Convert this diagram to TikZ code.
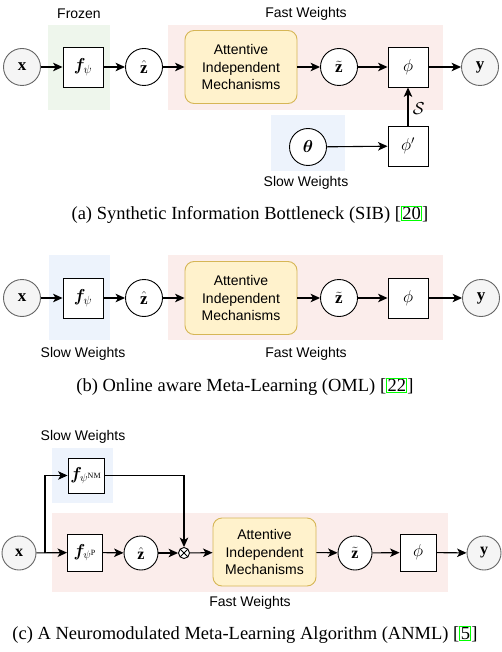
\documentclass[tikz,border=0pt]{standalone}
\usepackage{fontspec}
\usepackage{amsmath,amssymb,bm}
\setmainfont{Liberation Serif}
\setsansfont{Liberation Sans}
\usetikzlibrary{arrows.meta}
\definecolor{greenbg}{HTML}{EEF6EC}
\definecolor{pinkbg}{HTML}{FBEDEB}
\definecolor{bluebg}{HTML}{EDF3FC}
\definecolor{aimfill}{HTML}{FFF2CC}
\definecolor{aimdraw}{HTML}{D6B656}
\definecolor{iofill}{HTML}{F5F5F5}
\definecolor{iodraw}{HTML}{666666}
\definecolor{linkgreen}{HTML}{00FF00}
\newcommand{\citebox}[1]{{\setlength\fboxsep{0.3pt}\setlength\fboxrule{1.1pt}\fcolorbox{linkgreen}{white}{#1}}}
\begin{document}
\begin{tikzpicture}[x=1pt,y=-1pt,
  lbl/.style={font=\sffamily\fontsize{14}{17.5}\selectfont, inner sep=0pt},
  captxt/.style={font=\rmfamily\fontsize{18.5}{22}\selectfont, inner sep=0pt},
  mfont/.style={font=\fontsize{17}{20}\selectfont},
  io/.style={circle, draw=iodraw, fill=iofill, minimum size=37pt, inner sep=0pt, line width=0.9pt, mfont},
  var/.style={circle, draw=black, fill=white, minimum size=37pt, inner sep=0pt, line width=0.9pt, mfont},
  fb/.style={rectangle, draw=black, fill=white, minimum size=40pt, inner sep=0pt, line width=0.9pt, mfont},
  aim/.style={rectangle, rounded corners=9pt, draw=aimdraw, fill=aimfill, minimum width=112pt, minimum height=73pt, align=center, line width=0.9pt, font=\sffamily\fontsize{14}{17.5}\selectfont},
  otimesnode/.style={circle, draw=black, fill=white, minimum size=11pt, inner sep=0pt, line width=0.9pt,
    path picture={\draw[line width=0.9pt] (path picture bounding box.north west) -- (path picture bounding box.south east)
      (path picture bounding box.north east) -- (path picture bounding box.south west);}},
  arr/.style={-{Stealth[length=9.5pt,width=8.5pt,inset=2.5pt]}, line width=1.1pt}
]
\useasboundingbox (0,0) rectangle (502,652);

% ---------- (a) ----------
\fill[greenbg] (48,25) rectangle (110,110);
\fill[pinkbg] (168,25) rectangle (443,110);
\fill[bluebg] (271,115) rectangle (345,171);
\node[lbl] (frz) at (79,14) {Frozen};
\node[lbl] (fwa) at (306,14) {Fast Weights};
\node[lbl] (swa) at (306,183) {Slow Weights};
\node[io] (xa) at (22,67) {$\mathbf{x}$};
\node[fb] (fa) at (83,67) {$\bm{f}_{\psi}$};
\node[var] (zha) at (144,67) {$\hat{\mathbf{z}}$};
\node[aim] (ma) at (241,67) {Attentive\\Independent\\Mechanisms};
\node[var] (zta) at (339,67) {$\tilde{\mathbf{z}}$};
\node[fb] (pa) at (408,67) {$\phi$};
\node[io] (ya) at (480,67) {$\mathbf{y}$};
\node[var] (tha) at (308,147) {$\bm{\theta}$};
\node[fb] (ppa) at (408,146) {$\phi'$};
\draw[arr] (xa) -- (fa);
\draw[arr] (fa) -- (zha);
\draw[arr] (zha) -- (ma);
\draw[arr] (ma) -- (zta);
\draw[arr] (zta) -- (pa);
\draw[arr] (pa) -- (ya);
\draw[arr] (tha) -- (ppa);
\draw[arr] (ppa) -- node[right, xshift=1pt, yshift=-2pt, font=\fontsize{18}{20}\selectfont] (sa) {$\mathcal{S}$} (pa);
\node[captxt] (capa) at (250,215) {(a) Synthetic Information Bottleneck (SIB) [\citebox{20}]};

% ---------- (b) ----------
\fill[bluebg] (49,255) rectangle (110,340);
\fill[pinkbg] (168,255) rectangle (443,340);
\node[lbl] (swb) at (83,354) {Slow Weights};
\node[lbl] (fwb) at (306,354) {Fast Weights};
\node[io] (xb) at (22,298) {$\mathbf{x}$};
\node[fb] (fbb) at (83,298) {$\bm{f}_{\psi}$};
\node[var] (zhb) at (144,298) {$\hat{\mathbf{z}}$};
\node[aim] (mb) at (241,298) {Attentive\\Independent\\Mechanisms};
\node[var] (ztb) at (339,298) {$\tilde{\mathbf{z}}$};
\node[fb] (pb) at (408,298) {$\phi$};
\node[io] (yb) at (481,298) {$\mathbf{y}$};
\draw[arr] (xb) -- (fbb);
\draw[arr] (fbb) -- (zhb);
\draw[arr] (zhb) -- (mb);
\draw[arr] (mb) -- (ztb);
\draw[arr] (ztb) -- (pb);
\draw[arr] (pb) -- (yb);
\node[captxt] (capb) at (245,387) {(b) Online aware Meta-Learning (OML) [\citebox{22}]};

% ---------- (c) ----------
\fill[bluebg] (52,448) rectangle (113,503);
\fill[pinkbg] (52,513) rectangle (448,592);
\node[lbl] (swc) at (83,437) {Slow Weights};
\node[lbl] (fwc) at (250,603) {Fast Weights};
\node[io, minimum size=34pt, font=\fontsize{16}{18}\selectfont] (xc) at (19,553) {$\mathbf{x}$};
\node[fb, minimum width=36pt, minimum height=35pt, font=\fontsize{16}{18}\selectfont] (fnm) at (86,475.5) {$\bm{f}_{\psi^{\mathrm{NM}}}$};
\node[fb, minimum width=35pt, minimum height=37pt, font=\fontsize{16}{18}\selectfont] (fp) at (85,552.5) {$\bm{f}_{\psi^{\mathrm{P}}}$};
\node[var, minimum size=34pt, font=\fontsize{16}{18}\selectfont] (zhc) at (141,553) {$\hat{\mathbf{z}}$};
\node[otimesnode] (ot) at (184,553) {};
\node[aim, minimum width=103pt, minimum height=68pt] (mc) at (264.5,552) {Attentive\\Independent\\Mechanisms};
\node[var, minimum size=34pt, font=\fontsize{16}{18}\selectfont] (ztc) at (355,553) {$\tilde{\mathbf{z}}$};
\node[fb, minimum width=36pt, minimum height=37pt, font=\fontsize{16}{18}\selectfont] (pc) at (418,552.5) {$\phi$};
\node[io, minimum size=34pt, font=\fontsize{16}{18}\selectfont] (yc) at (484,553) {$\mathbf{y}$};
\coordinate (br) at (45,553);
\draw[arr] (xc) -- (fp);
\draw[arr] (br) |- (fnm);
\draw[arr] (fnm) -| (ot);
\draw[arr] (fp) -- (zhc);
\draw[arr] (zhc) -- (ot);
\draw[arr] (ot) -- (mc);
\draw[arr] (mc) -- (ztc);
\draw[arr] (ztc) -- (pc);
\draw[arr] (pc) -- (yc);
\node[captxt] (capc) at (245,635) {(c) A Neuromodulated Meta-Learning Algorithm (ANML) [\citebox{5}]};
\end{tikzpicture}
\end{document}
